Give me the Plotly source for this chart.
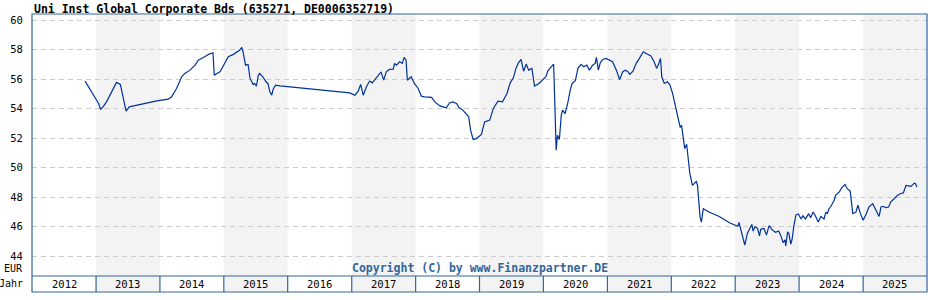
import plotly.graph_objects as go
from datetime import datetime, timedelta

# ---- data (decimal year, price in EUR) ----
years = [
    2012.83, 2012.93, 2013.04, 2013.07, 2013.11, 2013.17, 2013.25, 2013.32, 2013.38, 2013.40,
    2013.44, 2013.47, 2013.52, 2013.69, 2013.95, 2014.13, 2014.18, 2014.26, 2014.34, 2014.39,
    2014.47, 2014.55, 2014.60, 2014.70, 2014.77, 2014.83, 2014.85, 2014.89, 2014.94, 2015.07,
    2015.15, 2015.25, 2015.28, 2015.30, 2015.34, 2015.38, 2015.41, 2015.46, 2015.48, 2015.51,
    2015.54, 2015.56, 2015.61, 2015.66, 2015.69, 2015.72, 2015.75, 2015.77, 2015.81, 2015.88,
    2016.03, 2016.29, 2016.55, 2016.81, 2016.97, 2017.05, 2017.10, 2017.14, 2017.18, 2017.23,
    2017.28, 2017.32, 2017.39, 2017.44, 2017.46, 2017.50, 2017.54, 2017.59, 2017.65, 2017.67,
    2017.70, 2017.75, 2017.79, 2017.82, 2017.85, 2017.87, 2017.93, 2017.98, 2018.04, 2018.09,
    2018.14, 2018.19, 2018.25, 2018.30, 2018.38, 2018.43, 2018.48, 2018.53, 2018.58, 2018.64,
    2018.68, 2018.74, 2018.79, 2018.83, 2018.86, 2018.90, 2018.95, 2019.03, 2019.08, 2019.16,
    2019.22, 2019.29, 2019.36, 2019.43, 2019.48, 2019.53, 2019.57, 2019.61, 2019.65, 2019.69,
    2019.73, 2019.77, 2019.82, 2019.86, 2019.93, 2019.99, 2020.04, 2020.07, 2020.14, 2020.16,
    2020.17, 2020.19, 2020.20, 2020.22, 2020.25, 2020.28, 2020.30, 2020.34, 2020.38, 2020.42,
    2020.45, 2020.50, 2020.54, 2020.59, 2020.63, 2020.68, 2020.72, 2020.77, 2020.81, 2020.83,
    2020.86, 2020.89, 2020.93, 2020.98, 2021.03, 2021.08, 2021.14, 2021.19, 2021.24, 2021.28,
    2021.32, 2021.35, 2021.40, 2021.45, 2021.50, 2021.56, 2021.60, 2021.68, 2021.73, 2021.77,
    2021.80, 2021.83, 2021.85, 2021.89, 2021.94, 2021.98, 2022.02, 2022.06, 2022.10, 2022.14,
    2022.16, 2022.19, 2022.21, 2022.24, 2022.27, 2022.29, 2022.33, 2022.39, 2022.41, 2022.43,
    2022.45, 2022.47, 2022.49, 2022.50, 2022.59, 2022.75, 2022.91, 2023.04, 2023.06, 2023.10,
    2023.15, 2023.19, 2023.23, 2023.26, 2023.28, 2023.31, 2023.35, 2023.38, 2023.40, 2023.45,
    2023.49, 2023.53, 2023.58, 2023.63, 2023.68, 2023.71, 2023.75, 2023.78, 2023.79, 2023.82,
    2023.84, 2023.87, 2023.89, 2023.91, 2023.92, 2023.95, 2023.99, 2024.03, 2024.06, 2024.10,
    2024.15, 2024.18, 2024.22, 2024.26, 2024.30, 2024.34, 2024.39, 2024.42, 2024.44, 2024.47,
    2024.50, 2024.55, 2024.57, 2024.63, 2024.67, 2024.72, 2024.75, 2024.80, 2024.82, 2024.84,
    2024.89, 2024.92, 2024.96, 2025.00, 2025.05, 2025.09, 2025.15, 2025.19, 2025.22, 2025.25,
    2025.28, 2025.31, 2025.35, 2025.40, 2025.43, 2025.48, 2025.54, 2025.59, 2025.63, 2025.67,
    2025.72, 2025.75, 2025.80, 2025.82, 2025.84,
]
prices = [
    55.86, 55.13, 54.34, 53.95, 54.11, 54.50, 55.13, 55.77, 55.63, 55.24,
    54.45, 53.82, 54.11, 54.29, 54.52, 54.63, 54.78, 55.36, 56.15, 56.38,
    56.60, 56.94, 57.28, 57.51, 57.69, 57.78, 56.26, 56.38, 56.49, 57.51,
    57.67, 57.96, 58.14, 57.85, 56.94, 56.99, 56.04, 55.63, 55.70, 55.52,
    56.26, 56.38, 56.15, 55.81, 55.70, 55.13, 54.90, 55.29, 55.58, 55.54,
    55.47, 55.36, 55.24, 55.13, 55.06, 54.90, 55.17, 55.63, 54.90, 55.47,
    55.86, 55.74, 56.15, 56.38, 56.45, 55.92, 56.49, 56.65, 56.67, 57.06,
    56.94, 57.17, 57.06, 57.47, 57.28, 55.92, 56.15, 55.70, 55.36, 54.84,
    54.79, 54.75, 54.75, 54.45, 54.18, 54.11, 54.04, 54.38, 54.45, 54.34,
    54.07, 53.89, 53.66, 53.44, 52.53, 51.90, 51.96, 52.24, 53.09, 53.21,
    54.04, 54.50, 54.45, 55.02, 55.74, 56.08, 56.72, 57.10, 57.33, 56.53,
    57.01, 56.60, 56.72, 55.52, 55.70, 55.97, 56.15, 56.56, 56.94, 57.01,
    55.70, 52.76, 51.17, 52.19, 51.90, 53.55, 53.89, 53.66, 54.34, 55.24,
    55.70, 55.88, 56.72, 56.99, 56.83, 56.94, 56.60, 56.94, 57.06, 57.47,
    56.60, 57.10, 57.33, 57.40, 57.28, 57.17, 56.60, 55.97, 56.49, 56.60,
    56.49, 56.31, 56.53, 57.06, 57.40, 57.85, 57.74, 57.56, 57.17, 56.72,
    57.01, 57.40, 56.15, 55.70, 55.81, 55.58, 55.02, 54.23, 53.32, 52.71,
    52.87, 51.85, 51.28, 51.58, 50.60, 49.59, 48.79, 49.06, 48.79, 47.32,
    46.64, 46.30, 46.98, 47.21, 46.98, 46.68, 46.25, 46.02, 46.27, 45.64,
    44.74, 45.53, 45.87, 46.14, 45.69, 45.98, 45.87, 45.36, 45.81, 45.87,
    45.43, 46.06, 45.77, 45.61, 45.70, 45.43, 44.91, 45.09, 44.68, 45.64,
    45.53, 44.81, 45.13, 45.87, 46.10, 46.78, 46.85, 46.51, 46.72, 46.51,
    46.87, 46.60, 46.98, 46.68, 46.30, 46.68, 46.51, 46.98, 46.87, 47.21,
    47.37, 47.78, 48.12, 48.35, 48.64, 48.85, 48.58, 48.40, 47.78, 46.87,
    46.98, 47.44, 46.87, 46.42, 46.87, 47.32, 47.55, 47.21, 46.98, 46.68,
    47.32, 47.37, 47.28, 47.32, 47.66, 47.89, 48.12, 48.24, 48.28, 48.79,
    48.72, 48.72, 48.94, 48.90, 48.67,
]
year_labels = [2012, 2013, 2014, 2015, 2016, 2017, 2018, 2019, 2020, 2021, 2022, 2023, 2024, 2025]
y_ticks = [44, 46, 48, 50, 52, 54, 56, 58, 60]

title_text = "Uni Inst Global Corporate Bds (635271, DE0006352719)"
copyright_text = "Copyright (C) by www.Finanzpartner.DE"


def to_date(y):
    base = datetime(int(y), 1, 1)
    return base + timedelta(days=(y - int(y)) * 365.25)


dates = [to_date(y) for y in years]

BORDER = "#336699"
SHADE = "#f3f3f3"
FONT = "DejaVu Sans Mono"
band_bottom = -0.061

fig = go.Figure()
fig.add_trace(go.Scatter(x=dates, y=prices, mode="lines",
                         line=dict(color="#003399", width=1.2),
                         hoverinfo="x+y", showlegend=False))

shapes = []
for yr in year_labels:
    if yr % 2 == 1:
        shapes.append(dict(type="rect", xref="x", yref="paper",
                           x0=datetime(yr, 1, 1), x1=datetime(yr + 1, 1, 1),
                           y0=band_bottom, y1=1, fillcolor=SHADE,
                           line=dict(width=0), layer="below"))
# year band dividers
for yr in year_labels[1:]:
    shapes.append(dict(type="line", xref="x", yref="paper",
                       x0=datetime(yr, 1, 1), x1=datetime(yr, 1, 1),
                       y0=band_bottom, y1=0, line=dict(color=BORDER, width=1.2),
                       layer="above"))
# frame
shapes.append(dict(type="rect", xref="paper", yref="paper", x0=0, x1=1,
                   y0=band_bottom, y1=1, line=dict(color=BORDER, width=1.2),
                   fillcolor="rgba(0,0,0,0)", layer="above"))
shapes.append(dict(type="line", xref="paper", yref="paper", x0=0, x1=1,
                   y0=0, y1=0, line=dict(color=BORDER, width=1.2), layer="above"))

annotations = [
    dict(text="<b>" + title_text + "</b>", xref="paper", yref="paper",
         x=0, y=1.02, xanchor="left", yanchor="middle", showarrow=False,
         font=dict(family=FONT, size=11.5, color="#000000")),
    dict(text="<b>" + copyright_text + "</b>", xref="paper", yref="paper",
         x=0.5, y=0.031, xanchor="center", yanchor="middle", showarrow=False,
         font=dict(family=FONT, size=11.5, color=BORDER)),
    dict(text="EUR", xref="paper", yref="paper", x=-0.008, y=0.029,
         xanchor="right", yanchor="middle", showarrow=False,
         font=dict(family=FONT, size=10, color="#000000")),
    dict(text="Jahr", xref="paper", yref="paper", x=-0.008, y=-0.0305,
         xanchor="right", yanchor="middle", showarrow=False,
         font=dict(family=FONT, size=10, color="#000000")),
]
for yr in year_labels:
    annotations.append(dict(text=str(yr), xref="x", yref="paper",
                            x=datetime(yr, 7, 2), y=-0.0305,
                            xanchor="center", yanchor="middle", showarrow=False,
                            font=dict(family=FONT, size=10.5, color="#000000")))

fig.update_layout(
    width=928, height=300,
    margin=dict(l=32, r=1, t=14, b=24),
    paper_bgcolor="white", plot_bgcolor="white",
    shapes=shapes, annotations=annotations,
    xaxis=dict(range=[datetime(2012, 1, 1), datetime(2026, 1, 1)],
               showgrid=False, showticklabels=False, zeroline=False,
               showline=False, ticks=""),
    yaxis=dict(range=[42.644, 60.407], tickvals=y_ticks,
               ticktext=[str(v) for v in y_ticks],
               showgrid=True, gridcolor="#cccccc", griddash="5px,4px",
               gridwidth=1, zeroline=False, showline=False,
               ticks="outside", ticklen=6, tickcolor="rgba(0,0,0,0)",
               tickfont=dict(family=FONT, size=10.5, color="#000000")),
    hovermode="closest",
)

fig.write_html("out.html")
